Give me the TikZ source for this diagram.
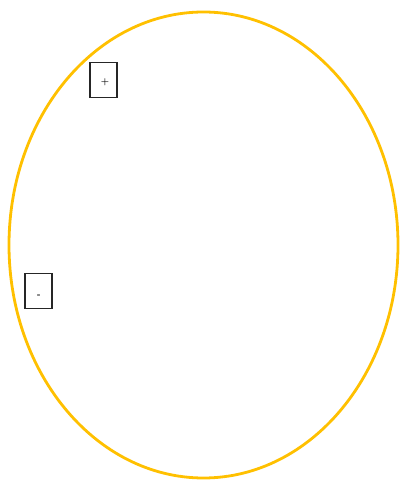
\documentclass[tikz,border=0pt]{standalone}
\definecolor{gold}{HTML}{FFC000}
\tikzset{
  ring/.style={draw=gold, line width=2.8pt},
  signbox/.style={draw=black!85, line width=1.4pt, minimum width=27pt, minimum height=35pt, inner sep=0pt},
  signtxt/.style={font=\small\bfseries, inner sep=0pt}
}
\begin{document}
\begin{tikzpicture}[x=1pt,y=1pt]
\useasboundingbox (0,0) rectangle (399,482);
\draw[ring] (203.5,237) ellipse [x radius=194.5, y radius=233];
\node[signbox] (plus) at (103.5,402) {};
\node[signtxt] (plustxt) at (105,400) {+};
\node[signbox] (minus) at (38.5,191) {};
\node[signtxt] (minustxt) at (39,186) {-};
\end{tikzpicture}
\end{document}
